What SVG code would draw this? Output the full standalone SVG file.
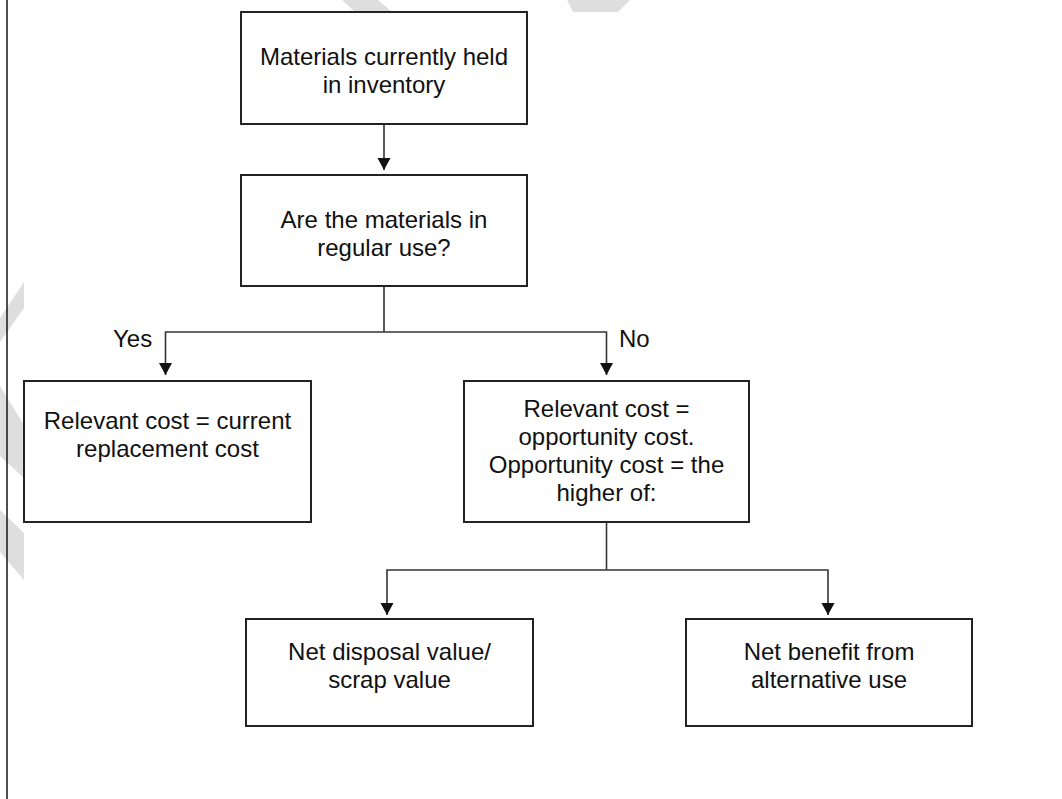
<svg xmlns="http://www.w3.org/2000/svg" width="1062" height="799" viewBox="0 0 1062 799">
  <style>
    .box { fill: #ffffff; stroke: #222222; stroke-width: 2; }
    .wire { fill: none; stroke: #333333; stroke-width: 1.6; }
    .label { font-family: "Liberation Sans", Arial, Helvetica, sans-serif; font-size: 24px; fill: #111111; text-anchor: middle; }
    .tag { font-family: "Liberation Sans", Arial, Helvetica, sans-serif; font-size: 24px; fill: #111111; }
    .wm { fill: #dedede; stroke: none; }
  </style>
  <defs>
    <marker id="arrow" markerUnits="userSpaceOnUse" markerWidth="14" markerHeight="14" viewBox="0 0 14 14" refX="12" refY="7" orient="auto">
      <path d="M0,0.5 L12,7 L0,13.5 Z" fill="#111111"/>
    </marker>
  </defs>

  <rect width="1062" height="799" fill="#ffffff"/>

  <!-- faint background stripes -->
  <g id="stripes">
    <polygon class="wm" points="342,0 378,0 392,12 355,12"/>
    <polygon class="wm" points="567,0 630,0 618,12 573,12"/>
    <polygon class="wm" points="0,318 24,282 24,308 0,342"/>
    <polygon class="wm" points="0,386 24,425 24,478 0,456"/>
    <polygon class="wm" points="0,510 24,533 24,580 0,552"/>
  </g>

  <!-- page edge -->
  <line x1="7" y1="0" x2="7" y2="799" stroke="#222222" stroke-width="1.6"/>

  <g id="connectors">
    <path class="wire" d="M384,124 V170" marker-end="url(#arrow)"/>
    <path class="wire" d="M384,286 V332"/>
    <path class="wire" d="M384,332 H165.5 V375" marker-end="url(#arrow)"/>
    <path class="wire" d="M384,332 H606.5 V375" marker-end="url(#arrow)"/>
    <path class="wire" d="M606.5,522 V570"/>
    <path class="wire" d="M606.5,570 H387 V615" marker-end="url(#arrow)"/>
    <path class="wire" d="M606.5,570 H828 V615" marker-end="url(#arrow)"/>
    <text class="tag" x="113" y="347">Yes</text>
    <text class="tag" x="619" y="347">No</text>
  </g>

  <g id="held-in-inventory">
    <rect class="box" x="241" y="12" width="286" height="112"/>
    <text class="label" x="384" y="65">Materials currently held</text>
    <text class="label" x="384" y="93">in inventory</text>
  </g>

  <g id="regular-use">
    <rect class="box" x="241" y="175" width="286" height="111"/>
    <text class="label" x="384" y="228">Are the materials in</text>
    <text class="label" x="384" y="256">regular use?</text>
  </g>

  <g id="replacement-cost">
    <rect class="box" x="24" y="381" width="287" height="141"/>
    <text class="label" x="167.5" y="429">Relevant cost = current</text>
    <text class="label" x="167.5" y="457">replacement cost</text>
  </g>

  <g id="opportunity-cost">
    <rect class="box" x="464" y="381" width="285" height="141"/>
    <text class="label" x="606.5" y="417">Relevant cost =</text>
    <text class="label" x="606.5" y="445">opportunity cost.</text>
    <text class="label" x="606.5" y="473">Opportunity cost = the</text>
    <text class="label" x="606.5" y="501">higher of:</text>
  </g>

  <g id="disposal-value">
    <rect class="box" x="246" y="619" width="287" height="107"/>
    <text class="label" x="389.5" y="660">Net disposal value/</text>
    <text class="label" x="389.5" y="688">scrap value</text>
  </g>

  <g id="alternative-use">
    <rect class="box" x="686" y="619" width="286" height="107"/>
    <text class="label" x="829" y="660">Net benefit from</text>
    <text class="label" x="829" y="688">alternative use</text>
  </g>
</svg>
